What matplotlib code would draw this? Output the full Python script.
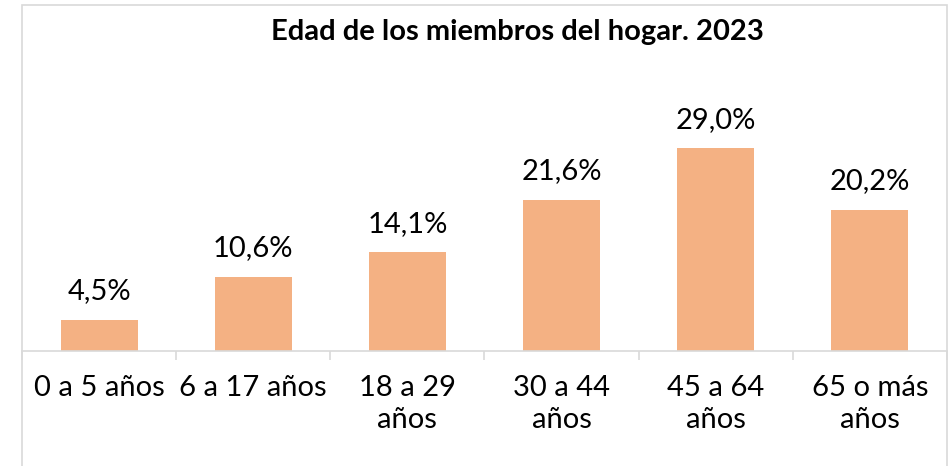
import matplotlib
matplotlib.use('Agg')
import matplotlib.pyplot as plt
from matplotlib.patches import Rectangle

# datos
categorias = ['0 a 5 años', '6 a 17 años', '18 a 29\naños', '30 a 44\naños', '45 a 64\naños', '65 o más\naños']
valores = [4.5, 10.6, 14.1, 21.6, 29.0, 20.2]
etiquetas = ['4,5%', '10,6%', '14,1%', '21,6%', '29,0%', '20,2%']
titulo = 'Edad de los miembros del hogar. 2023'

plt.rcParams['font.family'] = ['Lato', 'DejaVu Sans']

fig = plt.figure(figsize=(9.49, 4.66), dpi=100)
ax = fig.add_axes([22 / 949, 115 / 466, 925 / 949, 245 / 466])

x = range(len(categorias))
ax.bar(x, valores, width=0.5, color='#F4B183')

# etiquetas de datos
for i, v in enumerate(valores):
    ax.annotate(etiquetas[i], (i, v), xytext=(0, 11), textcoords='offset points',
                ha='center', va='bottom', fontsize=21, color='black')

ax.set_xlim(-0.5, len(categorias) - 0.5)
ax.set_ylim(0, 35)

ax.set_xticks(list(x))
ax.set_xticklabels(categorias, fontsize=21, linespacing=1.3)
ax.tick_params(axis='x', which='major', length=0, pad=17)
ax.set_xticks([i - 0.5 for i in range(len(categorias) + 1)], minor=True)
ax.tick_params(axis='x', which='minor', length=6.5, width=1.2, color='#D9D9D9')
ax.set_yticks([])

for s in ['left', 'right', 'top']:
    ax.spines[s].set_visible(False)
ax.spines['bottom'].set_color('#D9D9D9')
ax.spines['bottom'].set_linewidth(1.2)

# marco del gráfico
fig.patches.append(Rectangle((21.5 / 949, -0.1), 925.5 / 949, 1.1 - 4.5 / 466,
                             transform=fig.transFigure, fill=False,
                             edgecolor='#D9D9D9', linewidth=1.2))

fig.text(517 / 949, 1 - 32 / 466, titulo, ha='center', va='center',
         fontsize=21, fontweight='bold', color='black')

fig.savefig('out.png', dpi=100)
